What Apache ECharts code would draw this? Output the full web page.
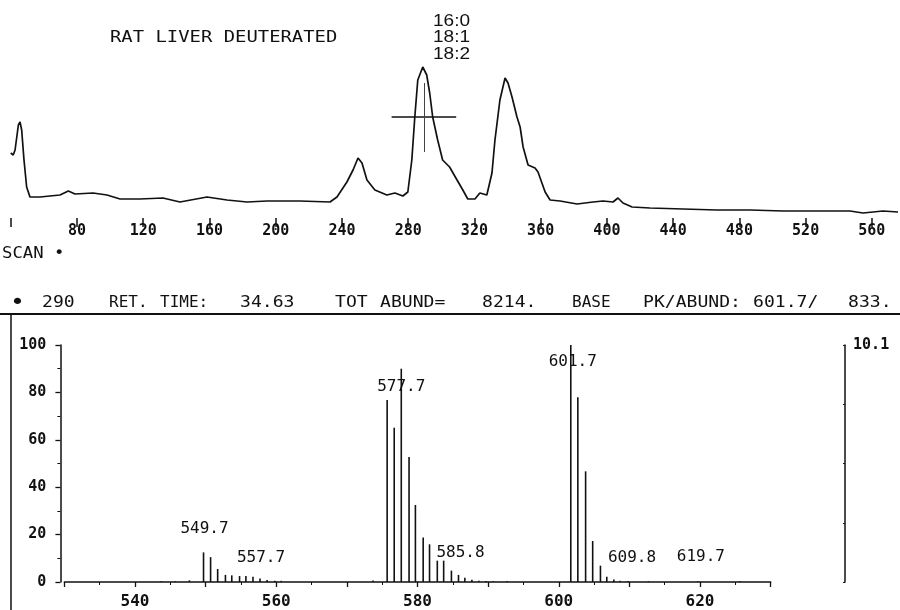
<!DOCTYPE html>
<html>
<head>
<meta charset="utf-8">
<title>RAT LIVER DEUTERATED</title>
<script src="https://cdn.jsdelivr.net/npm/echarts@6.0.0/dist/echarts.min.js"></script>
<style>
  html, body { margin: 0; padding: 0; background: #fff; }
  #chart { width: 900px; height: 610px; }
</style>
</head>
<body>
<div id="chart"></div>
<script>
// Total ion chromatogram: scan number vs. abundance (relative units)
const scanNo = [40, 41.5, 42.6, 44.6, 45.6, 46.6, 48.0, 49.6, 51.6, 57.7, 69.7, 74.8, 78.8, 89.7, 98.1,
  106, 118, 131.9, 142.2, 158.5, 170.6, 182.7, 194.7, 214.6, 232.8, 237, 243, 246.7, 249.7, 252.1,
  255.1, 259.9, 267.1, 272, 276.8, 279.8, 282.2, 284, 285.8, 288.8, 291.2, 293, 294.8, 297.8, 300.8,
  305, 309.5, 313, 316, 320.3, 323.3, 327.5, 330.6, 332.4, 335.4, 338.5, 340.3, 342.7, 345.7, 347.6,
  349.4, 352.4, 356.6, 358.4, 362.7, 365.7, 371.7, 382, 391.6, 397.7, 403.7, 406.7, 409.7, 415.2,
  426, 446, 466.5, 486.4, 506.4, 526.9, 546.8, 554.7, 566.7, 575.8];
const ticAbund = [32.5, 31.5, 34, 46.5, 48, 44, 29, 15.5, 10.5, 10.5, 11.5, 13.5, 12, 12.5, 11.5,
  9.5, 9.5, 10, 8, 10.5, 9, 8, 8.5, 8.5, 8, 10.5, 18, 24, 30, 27.5,
  19, 14, 11.5, 12.5, 11, 13, 29, 50.5, 69, 75.5, 71.5, 62.5, 50.5, 39, 29,
  25.5, 19, 14, 9.5, 9.5, 12.5, 11.5, 22.5, 39, 59, 70, 67.5, 60.5, 50.5, 45.5,
  35.5, 26.5, 25, 23, 13, 9, 8.5, 7, 8, 8.5, 8, 10, 7.5, 5.5,
  5, 4.5, 4, 4, 3.5, 3.5, 3.5, 2.5, 3.5, 3];
const scanTicks = [40, 80, 120, 160, 200, 240, 280, 320, 360, 400, 440, 480, 520, 560];

// Cursor at the selected scan and its crosshair extent
const cursorScan = 290;
const cursorSpan = [270, 309];
const cursorLevel = 50.5;
const cursorRange = [33, 67.5];
const peakNames = ['16:0', '18:1', '18:2'];

// Mass spectrum of scan 290: m/z vs. relative abundance (%)
const mzValues = [543.7, 545.7, 547.7, 549.7, 550.7, 551.7, 552.8, 553.7, 554.8, 555.7, 556.7, 557.7,
  558.7, 559.8, 560.7, 573.7, 575.7, 576.7, 577.7, 578.8, 579.7, 580.8, 581.7, 582.8, 583.7, 584.8,
  585.8, 586.7, 587.7, 588.7, 589.7, 590.7, 592.7, 601.7, 602.7, 603.8, 604.8, 605.9, 606.8, 607.8,
  608.7, 609.8, 612.7, 619.7, 625.7];
const relAbund = [0.3, 0.3, 0.7, 12.5, 10.5, 5.5, 3.0, 2.8, 2.5, 2.5, 2.2, 1.5,
  0.8, 0.5, 0.5, 0.6, 76.8, 65.1, 90, 52.7, 32.5, 18.8, 15.9, 9, 9, 4.8,
  3, 1.8, 1, 0.5, 0.4, 0.3, 0.4, 100, 78, 46.7, 17.3, 6.9, 2.2, 1.1,
  0.5, 0.4, 0.3, 0.3, 0.3];
const labelledPeaks = [549.7, 557.7, 577.7, 585.8, 601.7, 609.8, 619.7];
const mzTicks = [540, 560, 580, 600, 620];
const fullScale = 10.1;

const header = {
  title: 'RAT LIVER DEUTERATED',
  scanLabel: 'SCAN \u2022',
  scan: '290',
  retTime: '34.63',
  totAbund: '8214.',
  basePeak: '601.7/',
  baseAbund: '833.'
};

const ink = '#111';
const mono = '"DejaVu Sans Mono", monospace';

// label nudges (px) so the peak captions sit where the plotter put them
const labelShift = {
  '549.7': [1, -11], '557.7': [1, -8], '577.7': [0, 31], '585.8': [2, -9],
  '601.7': [2, 30], '609.8': [4, -10], '619.7': [3, -11]
};

const spectrumData = mzValues.map((mz, i) => {
  const key = mz.toFixed(1);
  const item = { value: [mz, relAbund[i]] };
  if (labelledPeaks.includes(mz)) {
    item.label = {
      show: true, position: 'top', distance: 5,
      offset: labelShift[key] || [0, 0],
      formatter: key,
      fontFamily: mono, fontSize: 16, color: ink
    };
  }
  return item;
});

function monoText(text, x, y, size, sx, weight) {
  return {
    type: 'text', x: x, y: y, scaleX: sx || 1, silent: true,
    style: {
      text: text, fill: ink, font: (weight || 'normal') + ' ' + size + 'px ' + mono,
      textAlign: 'left', textVerticalAlign: 'middle'
    }
  };
}

const infoLine = [
  ['\u2022', 10, 1.13], [header.scan, 42, 1.13], ['RET.', 109, 1.0], ['TIME:', 160, 1.0],
  [header.retTime, 240, 1.13], ['TOT', 335, 1.13], ['ABUND=', 380, 1.13], [header.totAbund, 482, 1.13],
  ['BASE', 572, 1.0], ['PK/ABUND:', 643, 1.13], [header.basePeak, 753, 1.13], [header.baseAbund, 848, 1.13]
];

const graphics = [
  monoText(header.title, 110, 38, 16, 1.18),
  monoText(header.scanLabel, 2, 254, 15, 1.15),
  { type: 'line', silent: true, shape: { x1: 0, y1: 314, x2: 900, y2: 314 }, style: { stroke: ink, lineWidth: 2 } },
  { type: 'line', silent: true, shape: { x1: 11, y1: 314, x2: 11, y2: 610 }, style: { stroke: ink, lineWidth: 1.5 } }
];
infoLine.forEach(([t, x, sx]) => graphics.push(monoText(t, x, 303, t === '\u2022' ? 22 : 16, sx)));
peakNames.forEach((t, i) => graphics.push({
  type: 'text', x: 433, y: 21 + i * 16.5, scaleX: 1.12, silent: true,
  style: { text: t, fill: ink, font: '17px "Liberation Sans", Arial, sans-serif', textAlign: 'left', textVerticalAlign: 'middle' }
}));

const chart = echarts.init(document.getElementById('chart'), null, { renderer: 'canvas' });
chart.setOption({
  animation: false,
  backgroundColor: '#fff',
  grid: [
    { left: 10.75, top: 18, width: 889.3, height: 200 },
    { left: 64.4, top: 345, width: 706.25, height: 241 }
  ],
  xAxis: [
    {
      gridIndex: 0, type: 'value', min: 40, max: 577, interval: 40,
      axisLine: { show: false },
      axisTick: { show: true, length: 9, lineStyle: { color: ink, width: 1.5 } },
      axisLabel: {
        margin: 6, fontFamily: mono, fontSize: 15, fontWeight: 'bold', color: ink,
        formatter: v => (scanTicks.includes(v) && v !== scanTicks[0]) ? String(v) : '',
        showMaxLabel: false
      },
      splitLine: { show: false }
    },
    {
      gridIndex: 1, type: 'value', min: 530, max: 630, interval: 10,
      axisLine: { show: true, onZero: false, lineStyle: { color: ink, width: 1.6 } },
      axisTick: { show: true, length: 5, lineStyle: { color: ink, width: 1.3 } },
      minorTick: { show: true, splitNumber: 2, length: 3, lineStyle: { color: ink, width: 1 } },
      axisLabel: {
        margin: 12, fontFamily: mono, fontSize: 16, fontWeight: 'bold', color: ink,
        formatter: v => mzTicks.includes(v) ? String(v) : ''
      },
      splitLine: { show: false }
    }
  ],
  yAxis: [
    { gridIndex: 0, type: 'value', min: 0, max: 100, show: false },
    {
      gridIndex: 1, type: 'value', min: 0, max: 100, interval: 20, offset: 4,
      axisLine: { show: true, lineStyle: { color: ink, width: 1.5 } },
      axisTick: { show: true, length: 5, lineStyle: { color: ink, width: 1.3 } },
      minorTick: { show: true, splitNumber: 2, length: 3, lineStyle: { color: ink, width: 1 } },
      axisLabel: { margin: 14, fontFamily: mono, fontSize: 15, fontWeight: 'bold', color: ink },
      splitLine: { show: false }
    },
    {
      gridIndex: 1, type: 'value', position: 'right', offset: 74.4,
      min: 0, max: fullScale, interval: fullScale / 4,
      axisLine: { show: true, lineStyle: { color: ink, width: 1.5 } },
      axisTick: { show: true, inside: true, length: 2, lineStyle: { color: ink, width: 1 } },
      axisLabel: {
        margin: 8, fontFamily: mono, fontSize: 15, fontWeight: 'bold', color: ink,
        formatter: v => (Math.abs(v - fullScale) < 1e-6 ? fullScale.toFixed(1) : '')
      },
      splitLine: { show: false }
    }
  ],
  series: [
    {
      name: 'TIC', type: 'line', xAxisIndex: 0, yAxisIndex: 0,
      data: scanNo.map((s, i) => [s, ticAbund[i]]),
      symbol: 'none', smooth: false,
      lineStyle: { color: ink, width: 1.7 },
      silent: true,
      markLine: {
        silent: true, symbol: 'none', label: { show: false }, animation: false,
        data: [
          [{ coord: [cursorSpan[0], cursorLevel] }, { coord: [cursorSpan[1], cursorLevel] }],
          [{ coord: [cursorScan, cursorRange[0]], lineStyle: { width: 1, color: '#444' } },
           { coord: [cursorScan, cursorRange[1]] }]
        ],
        lineStyle: { color: ink, width: 1.5, type: 'solid' }
      }
    },
    {
      name: 'spectrum', type: 'bar', xAxisIndex: 1, yAxisIndex: 1,
      data: spectrumData, barWidth: 1.6,
      itemStyle: { color: ink },
      silent: true
    }
  ],
  graphic: graphics
});
</script>
</body>
</html>
